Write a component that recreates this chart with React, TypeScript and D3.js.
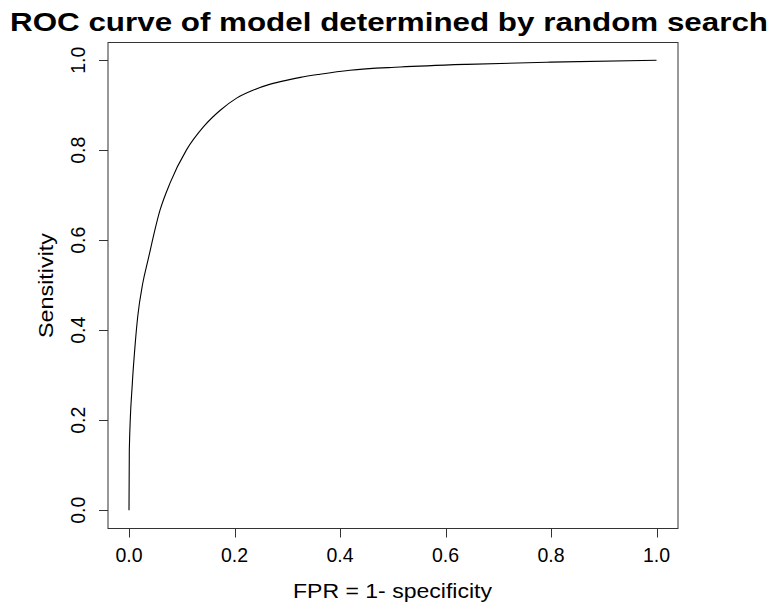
import React from "react";
import * as d3 from "d3";

const fpr = [0, 0.0006, 0.0063, 0.0108, 0.0165, 0.026, 0.036, 0.0588, 0.0777, 0.109, 0.141, 0.173, 0.204, 0.236, 0.268, 0.3, 0.325, 0.362, 0.419, 0.514, 0.64, 0.799, 1.0];
const tpr = [0, 0.134, 0.282, 0.356, 0.43, 0.504, 0.556, 0.667, 0.727, 0.801, 0.852, 0.889, 0.916, 0.934, 0.947, 0.956, 0.962, 0.969, 0.978, 0.985, 0.991, 0.996, 1.0];
const xTicks = [0, 0.2, 0.4, 0.6, 0.8, 1.0];
const yTicks = [0, 0.2, 0.4, 0.6, 0.8, 1.0];
const title = "ROC curve of model determined by random search";
const xLabel = "FPR = 1- specificity";
const yLabel = "Sensitivity";

export default function App() {
  const W = 775, H = 603;
  const box = { left: 108, right: 678, top: 42.5, bottom: 528.5 };
  const x = d3.scaleLinear().domain([0, 1]).range([129, 656.5]);
  const y = d3.scaleLinear().domain([0, 1]).range([510.3, 60.3]);
  const pts = fpr.map((f, i) => [f, tpr[i]] as [number, number]);
  const line = d3.line<[number, number]>().x(d => x(d[0])).y(d => y(d[1])).curve(d3.curveMonotoneX);
  const font = "'Liberation Sans', Arial, Helvetica, sans-serif";
  return (
    <svg width={W} height={H} style={{ position: "absolute", left: 0, top: 0, background: "#fff" }} fontFamily={font}>
      <rect x={0} y={0} width={W} height={H} fill="#fff" />
      <text x={389} y={30.5} textAnchor="middle" fontWeight="bold" fontSize={25} textLength={758} lengthAdjust="spacingAndGlyphs">{title}</text>
      <rect x={box.left} y={box.top} width={box.right - box.left} height={box.bottom - box.top} fill="none" stroke="#333" strokeWidth={1} />
      <path d={line(pts) || ""} fill="none" stroke="#000" strokeWidth={1.1} />
      {xTicks.map(t => (
        <g key={"x" + t}>
          <line x1={Math.round(x(t)) + 0.5} x2={Math.round(x(t)) + 0.5} y1={box.bottom} y2={box.bottom + 9} stroke="#333" />
          <text x={x(t)} y={562} textAnchor="middle" fontSize={19.5}>{d3.format(".1f")(t)}</text>
        </g>
      ))}
      <line x1={Math.round(x(0)) + 0.5} x2={Math.round(x(1)) + 0.5} y1={box.bottom} y2={box.bottom} stroke="#333" />
      {yTicks.map(t => (
        <g key={"y" + t}>
          <line x1={box.left - 9} x2={box.left} y1={Math.round(y(t)) + 0.5} y2={Math.round(y(t)) + 0.5} stroke="#333" />
          <text transform={`translate(85,${y(t)}) rotate(-90)`} textAnchor="middle" fontSize={19.5}>{d3.format(".1f")(t)}</text>
        </g>
      ))}
      <text x={392.5} y={598} textAnchor="middle" fontSize={20.5} textLength={199} lengthAdjust="spacingAndGlyphs">{xLabel}</text>
      <text transform={`translate(53,${(box.top + box.bottom) / 2}) rotate(-90)`} textAnchor="middle" fontSize={20.5} textLength={105} lengthAdjust="spacingAndGlyphs">{yLabel}</text>
    </svg>
  );
}
